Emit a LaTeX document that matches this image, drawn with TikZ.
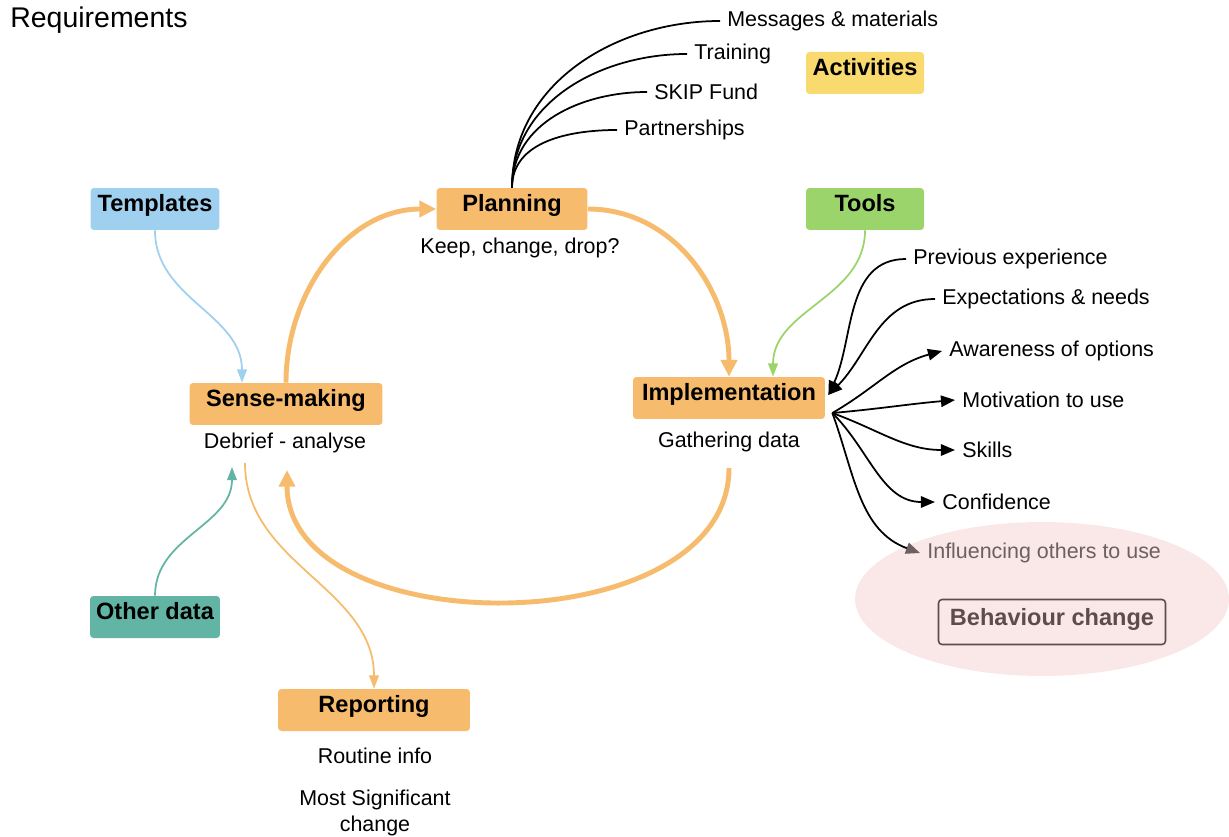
\documentclass[tikz,border=0pt]{standalone}
\usepackage{fontspec}
\setmainfont{Liberation Sans}
\usetikzlibrary{arrows.meta, positioning}

\definecolor{cycorange}{RGB}{246,187,108}
\definecolor{tplblue}{RGB}{160,208,240}
\definecolor{toolgreen}{RGB}{156,212,108}
\definecolor{actyellow}{RGB}{248,218,110}
\definecolor{datateal}{RGB}{98,181,164}
\definecolor{bcpink}{RGB}{250,232,232}
\definecolor{bcbrown}{RGB}{92,76,78}
\definecolor{influgray}{RGB}{108,96,98}

\newcommand{\txtsize}{\fontsize{12.2}{14.5}\selectfont}
\newcommand{\boxsize}{\fontsize{13.4}{16}\selectfont\bfseries}

\begin{document}
\begin{tikzpicture}[x=0.02cm, y=0.02cm,
  box/.style={rounded corners=2pt, minimum height=0.84cm, font=\boxsize, inner sep=2pt,
    text height=0.75em, text depth=0.5em},
  lbl/.style={font=\txtsize, inner sep=4pt},
  loop/.style={cycorange, line width=2.8pt, -{Triangle[length=9.5pt,width=9pt]}},
  feed/.style={line width=1pt, -{Triangle[length=7.5pt,width=5.5pt]}},
  branch/.style={black, line width=1pt},
  ptr/.style={black, line width=1pt, -{Triangle[length=8pt,width=6.5pt]}}]
  \useasboundingbox (0,0) rectangle (1229,-837);

  % Behaviour change area
  \fill[bcpink] (1042,-599) ellipse [x radius=3.74cm, y radius=1.54cm];

  \node[font=\fontsize{16.2}{19}\selectfont, anchor=west, inner sep=0pt] (title) at (10,-20) {Requirements};

  % Cycle boxes
  \node[box, fill=cycorange, minimum width=3.02cm] (plan) at (512,-209) {Planning};
  \node[lbl] (keep) at (520,-248) {Keep, change, drop?};
  \node[box, fill=cycorange, minimum width=3.84cm] (impl) at (729,-398) {Implementation};
  \node[lbl] (gather) at (729,-442) {Gathering data};
  \node[box, fill=cycorange, minimum width=3.86cm] (sense) at (286,-404) {Sense-making};
  \node[lbl] (debrief) at (285,-443) {Debrief - analyse};
  \node[box, fill=cycorange, minimum width=3.84cm] (report) at (374,-710) {Reporting};
  \node[lbl] (routine) at (375,-756) {Routine info};
  \node[lbl, align=center] (msc) at (375,-813) {Most Significant\\change};

  % Inputs
  \node[box, fill=actyellow, minimum width=2.36cm] (act) at (865,-73) {Activities};
  \node[box, fill=toolgreen, minimum width=2.36cm] (tools) at (865,-209) {Tools};
  \node[box, fill=tplblue, minimum width=2.58cm] (templ) at (155,-209) {Templates};
  \node[box, fill=datateal, minimum width=2.6cm] (other) at (155,-617) {Other data};

  % Planning branches
  \node[lbl, anchor=west] (msg) at (720,-21) {Messages \& materials};
  \node[lbl, anchor=west] (train) at (687,-54) {Training};
  \node[lbl, anchor=west] (skip) at (647,-92) {SKIP Fund};
  \node[lbl, anchor=west] (partner) at (617,-130) {Partnerships};
  \foreach \t in {msg,train,skip,partner}
    \draw[branch] (plan.north) to[out=90, in=180] (\t.west);

  % Implementation branches
  \node[lbl, anchor=west] (prev) at (906,-259) {Previous experience};
  \node[lbl, anchor=west] (expect) at (935,-299) {Expectations \& needs};
  \node[lbl, anchor=west] (aware) at (942,-351) {Awareness of options};
  \node[lbl, anchor=west] (motiv) at (955,-400) {Motivation to use};
  \node[lbl, anchor=west] (skills) at (955,-450) {Skills};
  \node[lbl, anchor=west] (conf) at (935,-502) {Confidence};
  \node[lbl, anchor=west, text=influgray] (influ) at (920,-553) {Influencing others to use};

  \coordinate (implin) at ([shift={(3,3)}]impl.east);
  \coordinate (implout) at ([shift={(7,-15)}]impl.east);
  \draw[ptr] (prev.west) to[out=180, in=65] (implin);
  \draw[ptr] (expect.west) to[out=180, in=45] (implin);
  \draw[ptr] (implout) to[out=30, in=195] (aware.west);
  \draw[ptr] (implout) to[out=5, in=185] (motiv.west);
  \draw[ptr] (implout) to[out=-20, in=180] (skills.west);
  \draw[ptr] (implout) to[out=-45, in=180] (conf.west);
  \draw[black, line width=1pt, -{Triangle[length=8pt,width=6.5pt,color=influgray]}]
    (implout) to[out=-70, in=160] (influ.west);

  \node[box, draw=bcbrown, line width=0.9pt, text=bcbrown, minimum width=4.54cm, minimum height=0.9cm,
    text depth=0.35em] (behave) at (1052,-622) {Behaviour change};

  % Main loop
  \coordinate (gbelow) at (729,-468);
  \coordinate (dbelow) at (287,-470);
  \draw[loop] (sense.north) to[out=90, in=180] (plan.west);
  \draw[loop] (plan.east) to[out=0, in=90] (impl.north);
  \draw[loop] (gbelow) .. controls (729,-645) and (287,-645) .. (dbelow);

  % Feeds into and out of the loop
  \coordinate (dbin) at (232,-467);
  \coordinate (dbout) at (245,-463);
  \draw[feed, tplblue] (templ.south) to[out=-90, in=90] ([shift={(-44,0)}]sense.north);
  \draw[feed, toolgreen] (tools.south) to[out=-90, in=90] ([shift={(44,0)}]impl.north);
  \draw[feed, datateal] (other.north) to[out=90, in=-90] (dbin);
  \draw[feed, cycorange] (dbout) to[out=-90, in=90] (report.north);
\end{tikzpicture}
\end{document}
